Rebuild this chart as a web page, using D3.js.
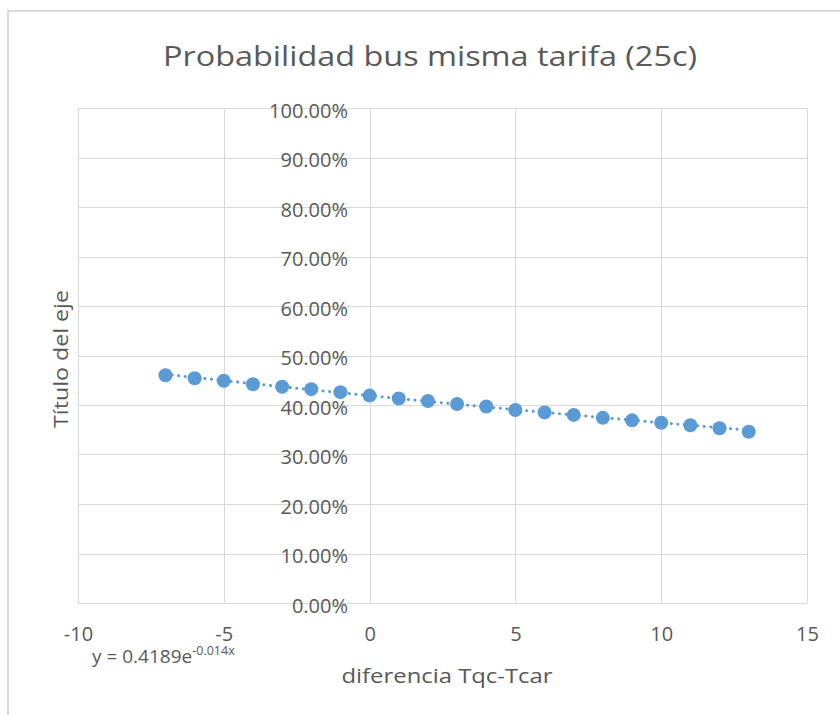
<!DOCTYPE html>
<html>
<head>
<meta charset="utf-8">
<script src="https://cdn.jsdelivr.net/npm/d3@7"></script>
<style>
  html, body { margin: 0; padding: 0; background: #ffffff; }
  svg { display: block; }
  text { font-family: "Open Sans", "Noto Sans", sans-serif; fill: #595959; }
</style>
</head>
<body>
<svg id="chart" width="840" height="715"></svg>
<script>
// Time difference (Tqc - Tcar) and probability of choosing the bus
const diferencia = [-7, -6, -5, -4, -3, -2, -1, 0, 1, 2, 3, 4, 5, 6, 7, 8, 9, 10, 11, 12, 13];
const probabilidad = [0.460, 0.454, 0.449, 0.442, 0.437, 0.432, 0.426, 0.419, 0.413, 0.408, 0.402,
                      0.397, 0.390, 0.385, 0.380, 0.374, 0.369, 0.364, 0.359, 0.353, 0.346];

// Exponential trendline y = a * e^(b x)
const trendA = 0.4189;
const trendB = -0.014;

const xTicks = [-10, -5, 0, 5, 10, 15];
const yTicks = [0, 0.1, 0.2, 0.3, 0.4, 0.5, 0.6, 0.7, 0.8, 0.9, 1.0];

const titulo = "Probabilidad bus misma tarifa (25c)";
const tituloX = "diferencia Tqc-Tcar";
const tituloY = "Título del eje";

const svg = d3.select("#chart");
const W = 840, H = 715;
const plot = { left: 78, right: 807, top: 108, bottom: 603 };
const gridColor = "#d9d9d9";
const markColor = "#5b9bd5";

// Chart area frame
svg.append("rect")
  .attr("x", 8).attr("y", 11)
  .attr("width", W + 20).attr("height", H + 20)
  .attr("fill", "#ffffff")
  .attr("stroke", gridColor).attr("stroke-width", 2);

const x = d3.scaleLinear().domain([-10, 15]).range([plot.left, plot.right]);
const y = d3.scaleLinear().domain([0, 1]).range([plot.bottom, plot.top]);

// Gridlines
const grid = svg.append("g").attr("stroke", gridColor).attr("stroke-width", 1);
grid.selectAll("line.h").data(yTicks).join("line")
  .attr("class", "h")
  .attr("x1", plot.left).attr("x2", plot.right)
  .attr("y1", d => Math.round(y(d)) + 0.5).attr("y2", d => Math.round(y(d)) + 0.5);
grid.selectAll("line.v").data(xTicks).join("line")
  .attr("class", "v")
  .attr("y1", plot.top).attr("y2", plot.bottom)
  .attr("x1", d => Math.round(x(d)) + 0.5).attr("x2", d => Math.round(x(d)) + 0.5);

// X axis (tick labels below the plot, plain hyphen for negatives)
const xAxis = d3.axisBottom(x).tickValues(xTicks).tickSize(0).tickPadding(0).tickFormat(d => String(d));
const gx = svg.append("g").attr("transform", `translate(0,${plot.bottom + 24})`).call(xAxis);
gx.select(".domain").remove();
gx.selectAll("text")
  .attr("font-size", 20)
  .attr("fill", "#595959")
  .attr("font-family", "'Open Sans', sans-serif");

// Y axis crossing at x = 0, labels on its left
const yAxis = d3.axisLeft(y).tickValues(yTicks).tickSize(0).tickPadding(22).tickFormat(d3.format(".2%"));
const gy = svg.append("g").attr("transform", `translate(${Math.round(x(0))},0)`).call(yAxis);
gy.select(".domain").remove();
gy.selectAll("text")
  .attr("font-size", 20)
  .attr("dy", "0.45em")
  .attr("fill", "#595959")
  .attr("font-family", "'Open Sans', sans-serif");

// Trendline (dotted)
const xs = d3.range(diferencia[0], diferencia[diferencia.length - 1] + 0.001, 0.25);
const line = d3.line().x(d => x(d)).y(d => y(trendA * Math.exp(trendB * d)));
svg.append("path")
  .datum(xs)
  .attr("d", line)
  .attr("fill", "none")
  .attr("stroke", markColor)
  .attr("stroke-width", 3)
  .attr("stroke-linecap", "round")
  .attr("stroke-dasharray", "0.1 6.5");

// Points
svg.append("g").selectAll("circle")
  .data(diferencia.map((d, i) => [d, probabilidad[i]]))
  .join("circle")
  .attr("cx", d => x(d[0]))
  .attr("cy", d => y(d[1]))
  .attr("r", 7)
  .attr("fill", markColor);

// Title
svg.append("text")
  .attr("x", 430).attr("y", 66)
  .attr("text-anchor", "middle")
  .attr("font-size", 28)
  .attr("textLength", 534)
  .attr("lengthAdjust", "spacingAndGlyphs")
  .text(titulo);

// Axis titles
svg.append("text")
  .attr("x", 447).attr("y", 683)
  .attr("text-anchor", "middle")
  .attr("font-size", 20)
  .attr("textLength", 211)
  .attr("lengthAdjust", "spacingAndGlyphs")
  .text(tituloX);

svg.append("text")
  .attr("transform", "translate(68,359) rotate(-90)")
  .attr("text-anchor", "middle")
  .attr("font-size", 20)
  .attr("textLength", 138)
  .attr("lengthAdjust", "spacingAndGlyphs")
  .text(tituloY);

// Trendline equation
const eq = svg.append("text")
  .attr("x", 92).attr("y", 663)
  .attr("font-size", 19);
eq.append("tspan").text(`y = ${trendA}e`);
eq.append("tspan").attr("dy", -8).attr("font-size", 12.5).text(`${trendB}x`);
</script>
</body>
</html>
